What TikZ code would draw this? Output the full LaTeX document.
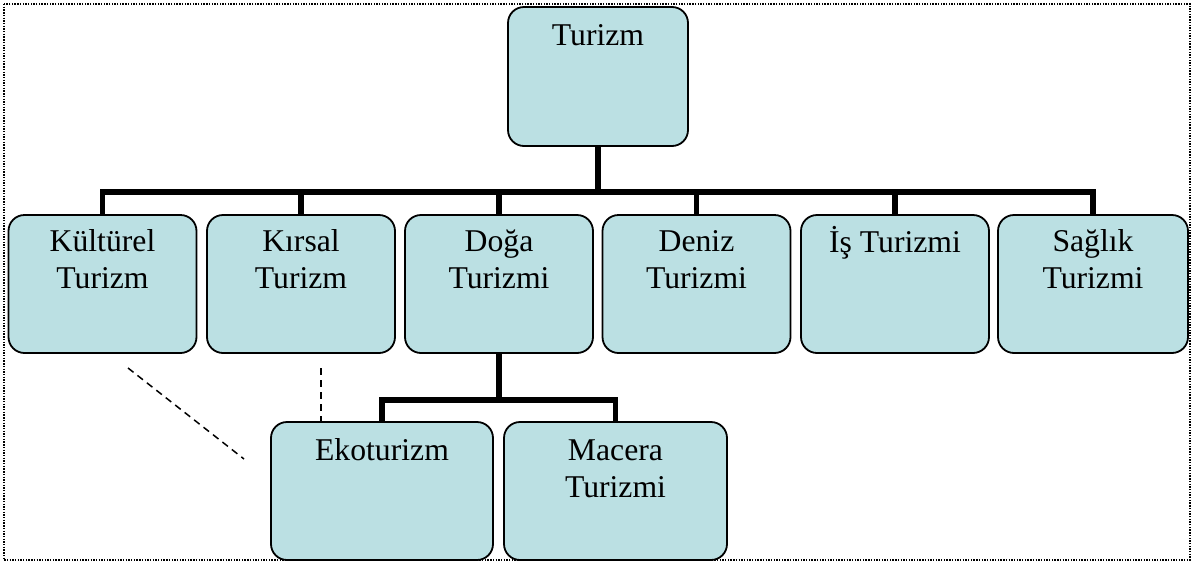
\documentclass[tikz,border=0pt]{standalone}
\usepackage{fontspec}
\setmainfont{Liberation Serif}
\usetikzlibrary{calc}
\definecolor{boxfill}{HTML}{BBE0E3}
\tikzset{
  box/.style={draw=black, line width=1.8pt, fill=boxfill, rounded corners=16pt, inner sep=0pt, minimum height=138pt},
  lbl/.style={align=center, inner sep=0pt, anchor=north, font=\fontsize{31.7}{36.8}\selectfont},
  conn/.style={line width=5.6pt, line join=miter},
  hint/.style={line width=1.5pt, dash pattern=on 7pt off 5pt},
  frame/.style={line width=1.4pt, dash pattern=on 1.4pt off 1.3pt}
}
\newcommand{\fl}{\vrule width 0pt height 25pt depth 0pt}
\begin{document}
\begin{tikzpicture}[x=1pt, y=-1pt]
\useasboundingbox (0,0) rectangle (1195,563);
\draw[frame] (4,4) rectangle (1190,560);
% boxes
\node[box, minimum width=180pt, minimum height=139pt] (tur) at (598,76.5) {};
\node[box, minimum width=188pt] (kul) at (102.5,284) {};
\node[box, minimum width=188pt] (kir) at (301,284) {};
\node[box, minimum width=188pt] (dog) at (499,284) {};
\node[box, minimum width=188pt] (den) at (696.5,284) {};
\node[box, minimum width=188pt] (is)  at (895,284) {};
\node[box, minimum width=190pt] (sag) at (1093,284) {};
\node[box, minimum width=222pt] (eko) at (382,491) {};
\node[box, minimum width=223pt] (mac) at (615.5,491) {};
% labels (first baseline 25pt below node top)
\node[lbl] (turt) at ([yshift=-14pt]tur.north) {\fl Turizm};
\node[lbl] (kult) at ([yshift=-12.5pt]kul.north) {\fl Kültürel\\Turizm};
\node[lbl] (kirt) at ([yshift=-12.5pt]kir.north) {\fl Kırsal\\Turizm};
\node[lbl] (dogt) at ([yshift=-12.5pt]dog.north) {\fl Doğa\\Turizmi};
\node[lbl] (dent) at ([yshift=-12.5pt]den.north) {\fl Deniz\\Turizmi};
\node[lbl] (ist)  at ([yshift=-12.5pt]is.north)  {\fl İş Turizmi};
\node[lbl] (sagt) at ([yshift=-12.5pt]sag.north) {\fl Sağlık\\Turizmi};
\node[lbl] (ekot) at ([yshift=-14.5pt]eko.north) {\fl Ekoturizm};
\node[lbl] (mact) at ([yshift=-14.5pt]mac.north) {\fl Macera\\Turizmi};
% connectors
\foreach \c in {kul,kir,dog,den,is,sag}
  \draw[conn] (tur.south) -- ++(0,45) -| (\c.north);
\foreach \c in {eko,mac}
  \draw[conn] (dog.south) -- ++(0,46) -| (\c.north);
% dashed hints
\coordinate (h1a) at (128,368);
\coordinate (h1b) at (244,459);
\coordinate (h2a) at (321,368);
\draw[hint] (h1a) -- (h1b);
\draw[hint] (h2a) -- (h2a |- eko.north);
\end{tikzpicture}
\end{document}
